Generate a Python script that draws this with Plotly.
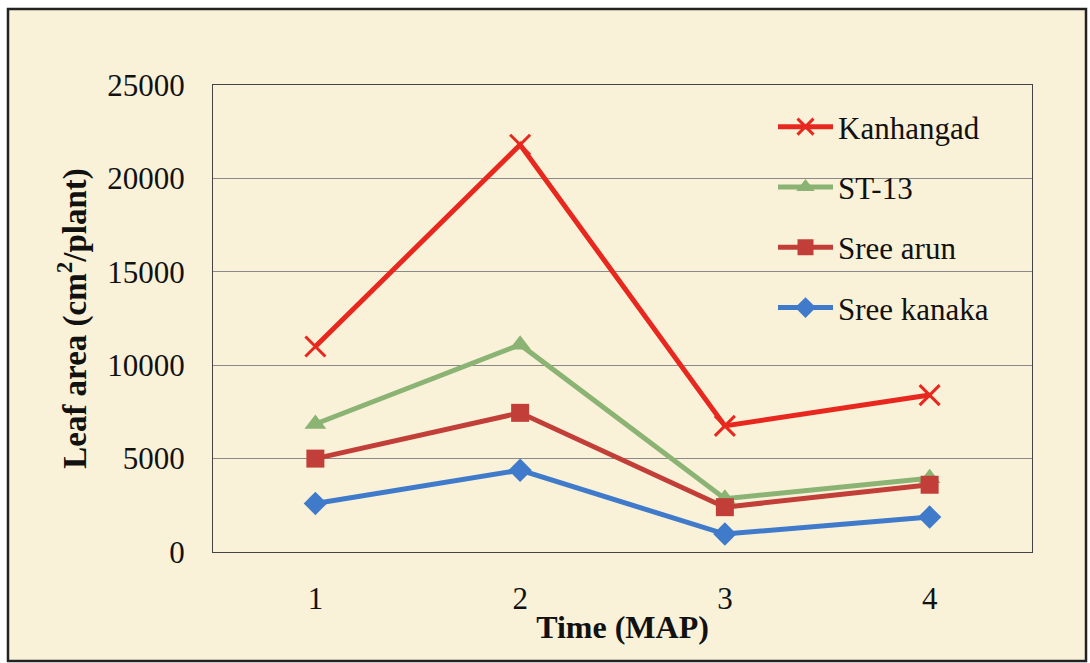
import plotly.graph_objects as go

time_map = [1, 2, 3, 4]
tick_labels = ["1", "2", "3", "4"]
kanhangad = [11000, 21800, 6750, 8400]
st13 = [6850, 11100, 2850, 3950]
sree_arun = [5000, 7450, 2400, 3600]
sree_kanaka = [2600, 4380, 960, 1870]

series = [
    ("Kanhangad", kanhangad, "#E8281F", "x-thin", 20),
    ("ST-13", st13, "#8AB374", "triangle-up", 19),
    ("Sree arun", sree_arun, "#C23F39", "square", 18),
    ("Sree kanaka", sree_kanaka, "#3F7ACB", "diamond", 18),
]

font_family = "Liberation Serif"

fig = go.Figure()
for i, (name, vals, color, sym, size) in enumerate(series):
    marker = dict(symbol=sym, size=size, color=color)
    if sym == "x-thin":
        marker["line"] = dict(color=color, width=3)
    fig.add_trace(go.Scatter(
        x=time_map, y=vals, name=name, mode="lines+markers",
        line=dict(color=color, width=5),
        marker=marker,
        legendgroup=f"g{i}",
    ))

W, H = 1090, 663
L, R, T, B = 213, 58, 85, 111
pw, ph = W - L - R, H - T - B

def px_to_paper_x(px):
    return (px - L) / pw

def px_to_paper_y(py):
    return (H - B - py) / ph

fig.add_shape(type="rect", xref="paper", yref="paper",
              x0=px_to_paper_x(8), x1=px_to_paper_x(1086),
              y0=px_to_paper_y(661), y1=px_to_paper_y(9),
              fillcolor="#FAF2D8", line=dict(color="#222222", width=2.5),
              layer="below")

fig.update_layout(
    template="none",
    width=W, height=H,
    margin=dict(l=L, r=R, t=T, b=B, autoexpand=False),
    paper_bgcolor="white",
    plot_bgcolor="rgba(0,0,0,0)",
    font=dict(family=font_family, size=31, color="#111111"),
    showlegend=True,
    legend=dict(
        x=px_to_paper_x(773), y=px_to_paper_y(100), xanchor="left", yanchor="top",
        bgcolor="rgba(0,0,0,0)", borderwidth=0,
        tracegroupgap=17, traceorder="grouped", itemwidth=55,
    ),
    xaxis=dict(
        range=[0.5, 4.5], tickvals=time_map, ticktext=tick_labels,
        showgrid=False, zeroline=False, showline=True, mirror=True,
        linecolor="#444444", linewidth=1, ticks="", ticklabelstandoff=19,
        title=dict(text="<b>Time (MAP)</b>", font=dict(size=32), standoff=0),
    ),
    yaxis=dict(
        range=[0, 25000], dtick=5000, tickformat="d",
        showgrid=True, gridcolor="#8A8A8A", gridwidth=1, zeroline=False,
        showline=True, mirror=True, linecolor="#444444", linewidth=1,
        ticks="", ticklabelstandoff=21,
        title=dict(text="<b>Leaf area (cm<sup>2</sup>/plant)</b>", font=dict(size=33), standoff=10),
    ),
)

fig.write_html("out.html")
